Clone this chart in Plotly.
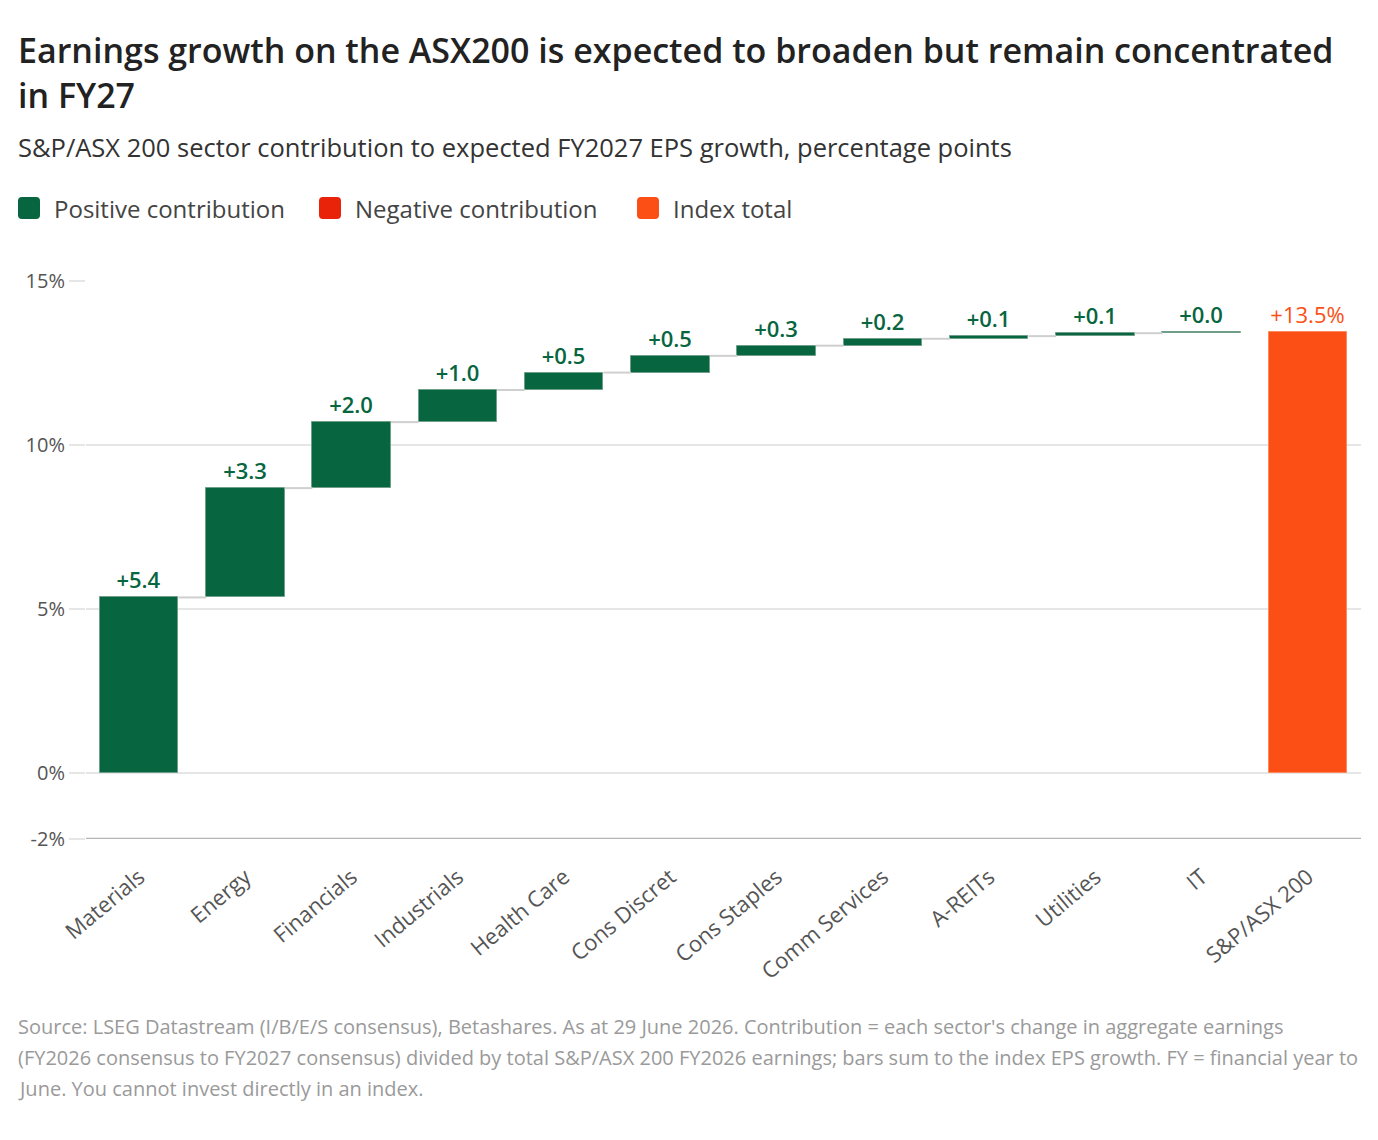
import plotly.graph_objects as go

# ---- data ----
sectors = ["Materials", "Energy", "Financials", "Industrials", "Health Care", "Cons Discret",
           "Cons Staples", "Comm Services", "A-REITs", "Utilities", "IT"]
contrib = [5.36, 3.33, 2.01, 0.98, 0.53, 0.51, 0.31, 0.21, 0.08, 0.09, 0.03]
total_label = "S&P/ASX 200"
total_value = 13.46
y_tickvals = [-2, 0, 5, 10, 15]
y_ticktext = ["-2%", "0%", "5%", "10%", "15%"]

# ---- styles ----
GREEN = "#07663f"
RED = "#e8230a"
ORANGE = "#fc4f16"
FONT = "Open Sans"
BAR_W = 0.74

# page offset (body margin) and layout geometry (pixels)
OFF = 8
W, H = 1362, 1124
L, R, T, B = 78, 9, 273, 293
PW = W - L - R
PH = H - T - B


def px(x):
    return (x - OFF - L) / PW


def py(y):
    return (H - B - (y - OFF)) / PH


def rounded_rect(x0, y0, x1, y1, r):
    pts = [
        f"M {px(x0 + r)},{py(y0)}",
        f"L {px(x1 - r)},{py(y0)}",
        f"Q {px(x1)},{py(y0)} {px(x1)},{py(y0 + r)}",
        f"L {px(x1)},{py(y1 - r)}",
        f"Q {px(x1)},{py(y1)} {px(x1 - r)},{py(y1)}",
        f"L {px(x0 + r)},{py(y1)}",
        f"Q {px(x0)},{py(y1)} {px(x0)},{py(y1 - r)}",
        f"L {px(x0)},{py(y0 + r)}",
        f"Q {px(x0)},{py(y0)} {px(x0 + r)},{py(y0)}",
        "Z",
    ]
    return " ".join(pts)


cats = sectors + [total_label]
xs = list(range(len(cats)))
bases = []
cum = 0.0
tops = []
for v in contrib:
    bases.append(cum)
    cum += v
    tops.append(cum)
bases.append(0)
vals = contrib + [total_value]
colors = [GREEN] * len(contrib) + [ORANGE]
colors[-2] = "#8fb8a3"
line_colors = ["#6f9f88"] * len(contrib) + ["#fd8a60"]
texts = [f"+{v:.1f}" for v in contrib] + [f"+{total_value:.1f}%"]
text_colors = [GREEN] * len(contrib) + [ORANGE]
text_weights = [600] * len(contrib) + [400]

fig = go.Figure()

# connectors
cx, cy = [], []
for i in range(len(contrib) - 1):
    cx += [xs[i] + BAR_W / 2, xs[i + 1] - BAR_W / 2, None]
    cy += [tops[i], tops[i], None]
fig.add_trace(go.Scatter(x=cx, y=cy, mode="lines", line=dict(color="#cfcfcf", width=2),
                         hoverinfo="skip", showlegend=False))

fig.add_trace(go.Bar(
    x=xs, y=vals, base=bases, width=BAR_W,
    marker=dict(color=colors, line=dict(color=line_colors, width=1)),
    text=texts, textposition="outside",
    textfont=dict(family=FONT, size=22, color=text_colors, weight=text_weights),
    cliponaxis=False, showlegend=False,
))

fig.update_layout(
    width=W, height=H,
    margin=dict(l=L, r=R, t=T, b=B),
    paper_bgcolor="white", plot_bgcolor="white",
    font=dict(family=FONT, color="#555555"),
    bargap=0,
    xaxis=dict(
        tickmode="array", tickvals=xs, ticktext=cats, range=[-0.5, len(cats) - 0.5],
        tickangle=-40, tickfont=dict(size=22, color="#555555", family=FONT),
        showgrid=False, zeroline=False, showline=False, ticks="",
        ticklabelstandoff=20,
    ),
    yaxis=dict(
        range=[-2, 15], tickvals=y_tickvals, ticktext=y_ticktext,
        tickfont=dict(size=20, color="#555555", family=FONT),
        showgrid=True, gridcolor="#e6e6e6", gridwidth=1.5, zeroline=False,
        ticks="outside", ticklen=16, tickcolor="#e6e6e6", tickwidth=1.5,
        showline=False,
    ),
)

# bottom axis line at -2
fig.add_shape(type="line", xref="paper", yref="y", x0=0, x1=1, y0=-2, y1=-2,
              line=dict(color="#b5b5b5", width=2.5))

# titles
fig.add_annotation(text="Earnings growth on the ASX200 is expected to broaden but remain concentrated",
                   xref="paper", yref="paper", x=px(16), y=py(50), xanchor="left", yanchor="middle",
                   showarrow=False, font=dict(family=FONT, size=34, color="#222222", weight=600))
fig.add_annotation(text="in FY27",
                   xref="paper", yref="paper", x=px(16), y=py(95), xanchor="left", yanchor="middle",
                   showarrow=False, font=dict(family=FONT, size=34, color="#222222", weight=600))
fig.add_annotation(text="S&P/ASX 200 sector contribution to expected FY2027 EPS growth, percentage points",
                   xref="paper", yref="paper", x=px(16), y=py(147), xanchor="left", yanchor="middle",
                   showarrow=False, font=dict(family=FONT, size=25.5, color="#333333"))

# legend
legend_items = [("Positive contribution", GREEN, 18), ("Negative contribution", RED, 319), ("Index total", ORANGE, 637)]
for name, col, x0 in legend_items:
    fig.add_shape(type="path", xref="paper", yref="paper",
                  path=rounded_rect(x0, 197, x0 + 22, 219, 4),
                  line=dict(width=0), fillcolor=col)
    fig.add_annotation(text=name, xref="paper", yref="paper", x=px(x0 + 34), y=py(208),
                       xanchor="left", yanchor="middle", showarrow=False,
                       font=dict(family=FONT, size=24, color="#444444"))

# footnote
foot = [
    "Source: LSEG Datastream (I/B/E/S consensus), Betashares. As at 29 June 2026. Contribution = each sector's change in aggregate earnings",
    "(FY2026 consensus to FY2027 consensus) divided by total S&P/ASX 200 FY2026 earnings; bars sum to the index EPS growth. FY = financial year to",
    "June. You cannot invest directly in an index.",
]
for i, line in enumerate(foot):
    fig.add_annotation(text=line, xref="paper", yref="paper", x=px(16), y=py(1026 + 31 * i),
                       xanchor="left", yanchor="middle", showarrow=False,
                       font=dict(family=FONT, size=20, color="#9a9a9a"))

fig.write_html("out.html")
